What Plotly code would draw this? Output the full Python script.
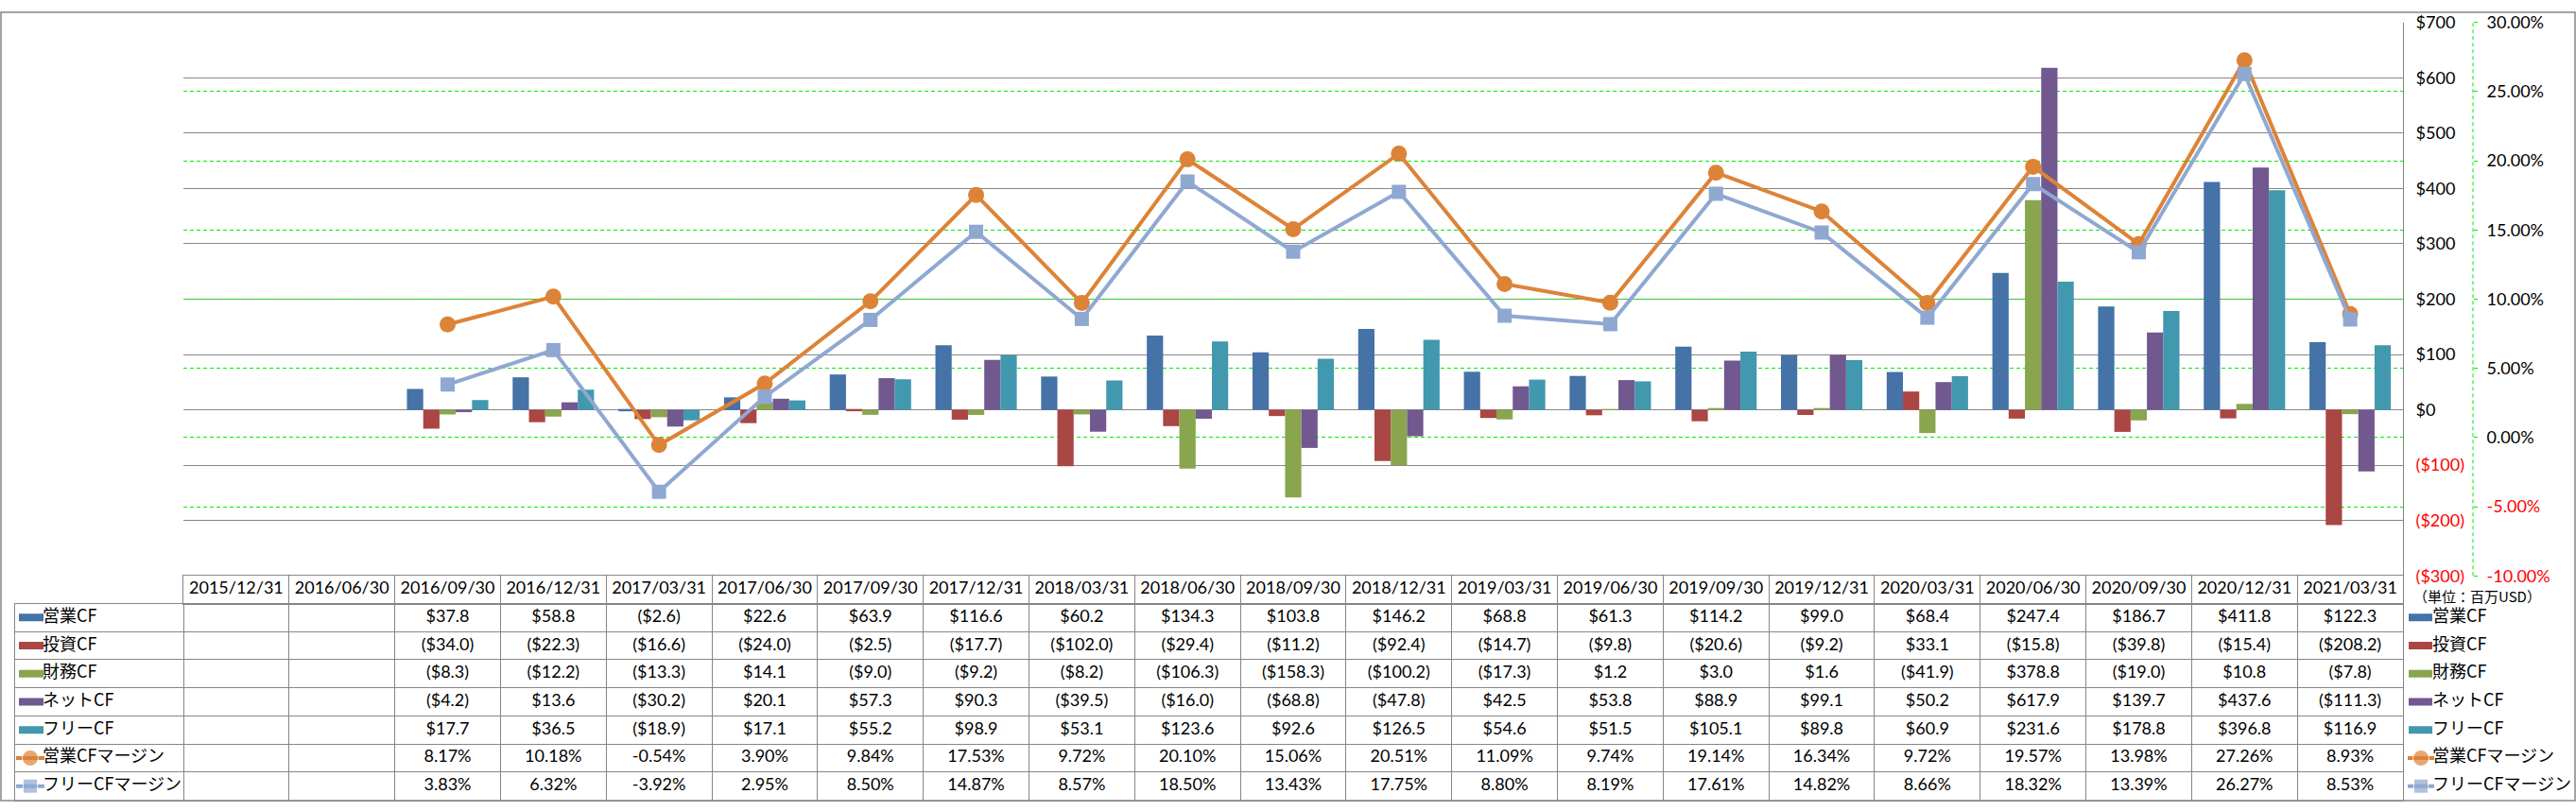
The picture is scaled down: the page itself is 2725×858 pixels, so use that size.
import plotly.graph_objects as go

# ---------------- data ----------------
dates = ["2015/12/31", "2016/06/30", "2016/09/30", "2016/12/31", "2017/03/31", "2017/06/30",
         "2017/09/30", "2017/12/31", "2018/03/31", "2018/06/30", "2018/09/30", "2018/12/31",
         "2019/03/31", "2019/06/30", "2019/09/30", "2019/12/31", "2020/03/31", "2020/06/30",
         "2020/09/30", "2020/12/31", "2021/03/31"]

op_cf = [None, None, 37.8, 58.8, -2.6, 22.6, 63.9, 116.6, 60.2, 134.3, 103.8, 146.2,
         68.8, 61.3, 114.2, 99.0, 68.4, 247.4, 186.7, 411.8, 122.3]
inv_cf = [None, None, -34.0, -22.3, -16.6, -24.0, -2.5, -17.7, -102.0, -29.4, -11.2, -92.4,
          -14.7, -9.8, -20.6, -9.2, 33.1, -15.8, -39.8, -15.4, -208.2]
fin_cf = [None, None, -8.3, -12.2, -13.3, 14.1, -9.0, -9.2, -8.2, -106.3, -158.3, -100.2,
          -17.3, 1.2, 3.0, 1.6, -41.9, 378.8, -19.0, 10.8, -7.8]
net_cf = [None, None, -4.2, 13.6, -30.2, 20.1, 57.3, 90.3, -39.5, -16.0, -68.8, -47.8,
          42.5, 53.8, 88.9, 99.1, 50.2, 617.9, 139.7, 437.6, -111.3]
free_cf = [None, None, 17.7, 36.5, -18.9, 17.1, 55.2, 98.9, 53.1, 123.6, 92.6, 126.5,
           54.6, 51.5, 105.1, 89.8, 60.9, 231.6, 178.8, 396.8, 116.9]
op_margin = [None, None, 8.17, 10.18, -0.54, 3.90, 9.84, 17.53, 9.72, 20.10, 15.06, 20.51,
             11.09, 9.74, 19.14, 16.34, 9.72, 19.57, 13.98, 27.26, 8.93]
free_margin = [None, None, 3.83, 6.32, -3.92, 2.95, 8.50, 14.87, 8.57, 18.50, 13.43, 17.75,
               8.80, 8.19, 17.61, 14.82, 8.66, 18.32, 13.39, 26.27, 8.53]

usd_ticks = [-300, -200, -100, 0, 100, 200, 300, 400, 500, 600, 700]
pct_ticks = [-10, -5, 0, 5, 10, 15, 20, 25, 30]
unit_label = "（単位：百万USD）"

bar_series = [("営業CF", op_cf, "#4572A7"), ("投資CF", inv_cf, "#AA4643"),
              ("財務CF", fin_cf, "#89A54E"), ("ネットCF", net_cf, "#71588F"),
              ("フリーCF", free_cf, "#4198AF")]
line_series = [("営業CFマージン", op_margin, "#DD8337", "circle", 17),
               ("フリーCFマージン", free_margin, "#8FA8D2", "square", 15)]

# ---------------- layout helpers ----------------
W, H = 2725, 858
def fx(p):
    return p / W
def fy(p):
    return 1 - p / H

PLOT_L, PLOT_R, PLOT_T, PLOT_B = 194, 2542, 12, 613
TAB_L, HEAD_B, TAB_B = 16, 643, 856.5
COL_W = (PLOT_R - PLOT_L) / len(dates)
LW = (PLOT_L - TAB_L) / COL_W
def bx(p):  # pixel -> body x-axis units
    return -0.5 - LW + (p - TAB_L) / COL_W

GRID = "#868686"
GREEN = "#00EE00"
NUMFONT = "Lato, Noto Sans CJK JP, sans-serif"
JPFONT = "Noto Sans CJK JP, sans-serif"

def fmt_usd(v):
    return f"${v:.1f}" if v >= 0 else f"(${-v:.1f})"
def fmt_pct(v):
    return f"{v:.2f}%"
def red(s, neg):
    return f"<span style='color:#FF0000'>{s}</span>" if neg else s

fig = go.Figure()

# ---------------- main chart ----------------
for name, vals, color in bar_series:
    fig.add_trace(go.Bar(x=dates, y=vals, name=name, marker=dict(color=color, line=dict(width=0)),
                         xaxis="x", yaxis="y", showlegend=False))
for name, vals, color, sym, sz in line_series:
    fig.add_trace(go.Scatter(x=dates, y=vals, name=name, mode="lines+markers",
                             line=dict(color=color, width=4),
                             marker=dict(symbol=sym, size=sz, color=color),
                             xaxis="x", yaxis="y2", showlegend=False))

# ---------------- table header ----------------
fig.add_trace(go.Scatter(x=list(range(len(dates))), y=[0.5] * len(dates), mode="text", text=dates,
                         textfont=dict(family=NUMFONT, size=18, color="#000000"),
                         xaxis="x3", yaxis="y3", showlegend=False, hoverinfo="skip"))

# ---------------- table body + legends ----------------
def add_key(kind, color, sym, sz, xa, ya, x_left, x_right, y):
    xm = (x_left + x_right) / 2
    if kind == "bar":
        fig.add_trace(go.Scatter(x=[x_left, x_right], y=[y, y], mode="lines",
                                 line=dict(color=color, width=8),
                                 xaxis=xa, yaxis=ya, showlegend=False, hoverinfo="skip"))
    else:
        fig.add_trace(go.Scatter(x=[x_left, xm, x_right], y=[y, y, y], mode="lines+markers",
                                 line=dict(color=color, width=4),
                                 marker=dict(symbol=sym, size=[0, sz, 0], color=color),
                                 xaxis=xa, yaxis=ya, showlegend=False, hoverinfo="skip"))

rows = [(n, v, c, "bar", None, None) for n, v, c in bar_series] + \
       [(n, v, c, "line", s, z) for n, v, c, s, z in line_series]
for r, (name, vals, color, kind, sym, sz) in enumerate(rows):
    xs = [i for i, v in enumerate(vals) if v is not None]
    fm = fmt_usd if kind == "bar" else fmt_pct
    txt = [fm(vals[i]) for i in xs]
    fig.add_trace(go.Scatter(x=xs, y=[r + 0.5] * len(xs), mode="text", text=txt,
                             textfont=dict(family=NUMFONT, size=18, color="#000000"),
                             xaxis="x4", yaxis="y4", showlegend=False, hoverinfo="skip"))
    # left legend key + label
    if kind == "bar":
        add_key(kind, color, sym, sz, "x4", "y4", bx(20), bx(46), r + 0.5)
    else:
        add_key(kind, color, sym, sz, "x4", "y4", bx(17), bx(47), r + 0.5)
    fig.add_trace(go.Scatter(x=[bx(45)], y=[r + 0.5], mode="text", text=[name],
                             textposition="middle right",
                             textfont=dict(family=JPFONT, size=18, color="#000000"),
                             xaxis="x4", yaxis="y4", showlegend=False, hoverinfo="skip"))
    # right legend key + label
    if kind == "bar":
        add_key(kind, color, sym, sz, "x5", "y5", 2548, 2573, r + 0.5)
    else:
        add_key(kind, color, sym, sz, "x5", "y5", 2547, 2575, r + 0.5)
    fig.add_trace(go.Scatter(x=[2573], y=[r + 0.5], mode="text", text=[name],
                             textposition="middle right",
                             textfont=dict(family=JPFONT, size=18, color="#000000"),
                             xaxis="x5", yaxis="y5", showlegend=False, hoverinfo="skip"))

usd_text = [red(fmt_usd(v).replace(".0", ""), v < 0) for v in usd_ticks]
pct_text = [red(fmt_pct(v), v < 0) for v in pct_ticks]

fig.update_layout(
    width=W, height=H, autosize=False,
    margin=dict(l=0, r=0, t=0, b=0),
    paper_bgcolor="white", plot_bgcolor="rgba(0,0,0,0)",
    barmode="group", bargap=0.23, bargroupgap=0,
    showlegend=False,
    font=dict(family=NUMFONT, size=18, color="#000000"),
    xaxis=dict(domain=[fx(PLOT_L), fx(PLOT_R)], type="category", categoryorder="array",
               categoryarray=dates, range=[-0.5, len(dates) - 0.5], showticklabels=False,
               showgrid=False, zeroline=False, showline=False, ticks="", anchor="y"),
    yaxis=dict(domain=[fy(PLOT_B), fy(PLOT_T)], range=[-300, 700], side="right", anchor="x",
               tickvals=usd_ticks, ticktext=usd_text, showgrid=True, gridcolor=GRID, gridwidth=1,
               showline=True, linecolor=GRID, linewidth=1, ticks="", zeroline=False,
               ticklabelstandoff=9, tickfont=dict(family=NUMFONT, size=18, color="#000000")),
    yaxis2=dict(overlaying="y", side="right", anchor="free", position=fx(2616), range=[-10, 30],
                tickvals=pct_ticks, ticktext=pct_text, showgrid=True, gridcolor=GREEN,
                griddash="4px,3px", gridwidth=1, ticks="outside", ticklen=4, tickcolor=GREEN,
                showline=False, zeroline=False, ticklabelstandoff=6,
                tickfont=dict(family=NUMFONT, size=18, color="#000000")),
    xaxis3=dict(domain=[fx(PLOT_L), fx(PLOT_R)], range=[-0.5, len(dates) - 0.5], anchor="y3",
                tickvals=[i + 0.5 for i in range(len(dates) - 1)], showticklabels=False, ticks="",
                showgrid=True, gridcolor=GRID, showline=True, mirror=True, linecolor=GRID,
                zeroline=False),
    yaxis3=dict(domain=[fy(HEAD_B), fy(PLOT_B)], range=[0, 1], anchor="x3", showticklabels=False,
                showgrid=False, showline=True, mirror=True, linecolor=GRID, zeroline=False, ticks=""),
    xaxis4=dict(domain=[fx(TAB_L), fx(PLOT_R)], range=[-0.5 - LW, len(dates) - 0.5], anchor="y4",
                tickvals=[i - 0.5 for i in range(len(dates))], showticklabels=False, ticks="",
                showgrid=True, gridcolor=GRID, showline=True, mirror=True, linecolor=GRID,
                zeroline=False),
    yaxis4=dict(domain=[fy(TAB_B), fy(HEAD_B)], range=[len(rows), 0], anchor="x4",
                tickvals=list(range(1, len(rows))), showticklabels=False, ticks="",
                showgrid=True, gridcolor=GRID, showline=True, mirror=True, linecolor=GRID,
                zeroline=False),
    xaxis5=dict(domain=[fx(PLOT_R), 1], range=[PLOT_R, W], anchor="y5", visible=False),
    yaxis5=dict(domain=[fy(TAB_B), fy(HEAD_B)], range=[len(rows), 0], anchor="x5", visible=False),
    shapes=[
        dict(type="rect", xref="paper", yref="paper", x0=fx(1), x1=fx(W - 1), y0=fy(H - 1), y1=fy(1),
             line=dict(color=GRID, width=1.5)),
        dict(type="line", xref="paper", yref="paper", x0=fx(2616), x1=fx(2616),
             y0=fy(PLOT_B), y1=fy(PLOT_T), line=dict(color=GREEN, width=1, dash="4px,3px")),
    ],
    annotations=[
        dict(text=unit_label, xref="paper", yref="paper", x=fx(2551), y=fy(635),
             xanchor="left", yanchor="middle", showarrow=False,
             font=dict(family=JPFONT, size=15, color="#000000")),
    ],
)

fig.write_html("out.html", config={"displayModeBar": False},
               post_script="document.body.style.margin='0';document.body.style.overflow='hidden';")
